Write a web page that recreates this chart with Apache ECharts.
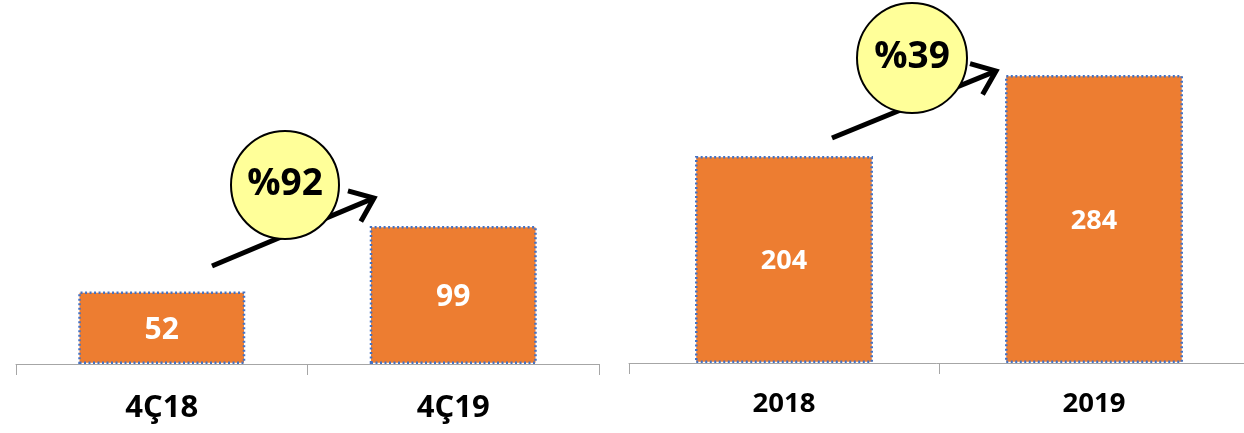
<!DOCTYPE html>
<html>
<head>
<meta charset="utf-8">
<script src="https://cdn.jsdelivr.net/npm/echarts@6/dist/echarts.min.js"></script>
<style>
  html, body { margin: 0; padding: 0; background: #fff; }
  #chart { width: 1244px; height: 433px; }
</style>
</head>
<body>
<div id="chart"></div>
<script>
// ---- data ----
const quarterCategories = ['4Ç18', '4Ç19'];
const quarterValues = [52, 99];
const yearCategories = ['2018', '2019'];
const yearValues = [204, 284];
const growthLabels = ['%92', '%39'];

const FONT = '"Open Sans", "DejaVu Sans", sans-serif';
const BAR_COLOR = '#ED7D31';
const BORDER_COLOR = '#4472C4';

const chart = echarts.init(document.getElementById('chart'), null, { renderer: 'canvas' });

function arrow(x1, y1, x2, y2) {
  const dx = x2 - x1, dy = y2 - y1;
  const len = Math.hypot(dx, dy);
  const ux = -dx / len, uy = -dy / len;
  const a = 38 * Math.PI / 180, L = 27;
  const r = (ang) => [x2 + L * (ux * Math.cos(ang) - uy * Math.sin(ang)), y2 + L * (ux * Math.sin(ang) + uy * Math.cos(ang))];
  return [
    { type: 'line', shape: { x1: x1, y1: y1, x2: x2 + ux, y2: y2 + uy }, style: { stroke: '#000', lineWidth: 5 }, z: 10 },
    { type: 'polyline', shape: { points: [r(a), [x2, y2], r(-a)] }, style: { stroke: '#000', lineWidth: 5, fill: null, lineJoin: 'miter' }, z: 10 }
  ];
}
function bubble(cx, cy, r, label) {
  return [
    { type: 'circle', shape: { cx: cx, cy: cy, r: r }, style: { fill: '#FFFF99', stroke: '#000', lineWidth: 2 }, z: 20 },
    { type: 'text', x: cx, y: cy - 1, style: { text: label, fill: '#000', font: 'bold 37px ' + FONT, textAlign: 'center', textVerticalAlign: 'middle' }, z: 21 }
  ];
}

const axisCommon = {
  type: 'category',
  axisLine: { show: true, lineStyle: { color: '#A6A6A6', width: 1 } },
  axisTick: { show: true, length: 11, lineStyle: { color: '#A6A6A6' } },
  splitLine: { show: false }
};
const barItem = { color: BAR_COLOR, borderColor: BORDER_COLOR, borderWidth: 2.5, borderType: [2, 2.5] };

chart.setOption({
  animation: false,
  backgroundColor: '#fff',
  grid: [
    { left: 16, width: 583, top: 85, bottom: 69, containLabel: false, outerBoundsMode: 'none' },
    { left: 629, width: 620, top: 8, bottom: 70, containLabel: false, outerBoundsMode: 'none' }
  ],
  xAxis: [
    Object.assign({}, axisCommon, { gridIndex: 0, data: quarterCategories,
      axisLabel: { color: '#000', fontFamily: FONT, fontWeight: 'bold', fontSize: 31, margin: 29 } }),
    Object.assign({}, axisCommon, { gridIndex: 1, data: yearCategories,
      axisLabel: { color: '#000', fontFamily: FONT, fontWeight: 'bold', fontSize: 27.5, margin: 27 } })
  ],
  yAxis: [
    { type: 'value', gridIndex: 0, min: 0, max: 200, show: false },
    { type: 'value', gridIndex: 1, min: 0, max: 350, show: false }
  ],
  series: [
    { type: 'bar', xAxisIndex: 0, yAxisIndex: 0, data: quarterValues, barWidth: 167,
      itemStyle: barItem,
      label: { show: true, position: 'inside', offset: [0, 3], color: '#fff', fontFamily: FONT, fontWeight: 'bold', fontSize: 30 } },
    { type: 'bar', xAxisIndex: 1, yAxisIndex: 1, data: yearValues, barWidth: 178,
      itemStyle: barItem,
      label: { show: true, position: 'inside', offset: [0, 2], color: '#fff', fontFamily: FONT, fontWeight: 'bold', fontSize: 27 } }
  ],
  graphic: [].concat(
    arrow(212, 266, 374, 198),
    bubble(285, 185, 54, growthLabels[0]),
    arrow(832, 138, 996, 71),
    bubble(912, 58, 55, growthLabels[1])
  )
});
</script>
</body>
</html>
